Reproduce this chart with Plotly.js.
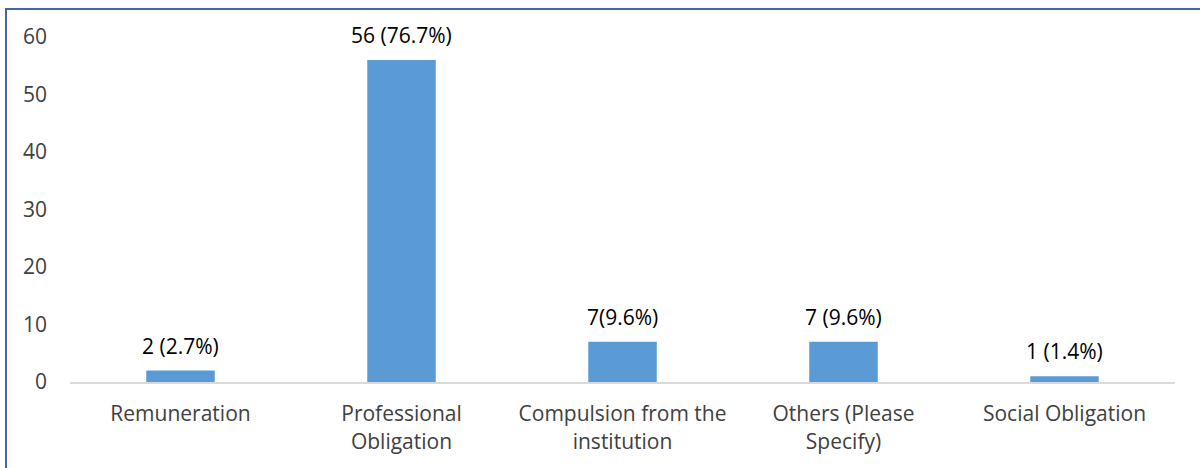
<!DOCTYPE html>
<html>
<head>
<meta charset="utf-8">
<script src="https://cdn.plot.ly/plotly-3.0.1.min.js"></script>
<style>
  html, body { margin: 0; padding: 0; background: #fff; }
  #wrap { position: relative; width: 1200px; height: 468px; }
  #chart { width: 1200px; height: 468px; }
  #frame { position: absolute; left: 5px; top: 8px; width: 1195px; height: 460px;
           border-left: 2px solid #4466a6; border-top: 2px solid #4466a6;
           box-sizing: border-box; pointer-events: none; }
</style>
</head>
<body>
<div id="wrap">
  <div id="chart"></div>
  <div id="frame"></div>
</div>
<script>
const categories = ["Remuneration", "Professional<br>Obligation", "Compulsion from the<br>institution", "Others (Please<br>Specify)", "Social Obligation"];
const counts = [2, 56, 7, 7, 1];
const labels = ["2 (2.7%)", "56 (76.7%)", "7(9.6%)", "7 (9.6%)", "1 (1.4%)"];
const yTicks = [0, 10, 20, 30, 40, 50, 60];

const trace = {
  type: "bar",
  x: categories,
  y: counts,
  cliponaxis: false,
  marker: { color: "#5b9bd5" },
  hoverinfo: "none"
};

const annotations = categories.map((c, i) => ({
  x: c,
  y: counts[i],
  xref: "x",
  yref: "y",
  text: labels[i],
  showarrow: false,
  yanchor: "bottom",
  yshift: 9,
  font: { family: "Open Sans, Noto Sans, sans-serif", size: 21, color: "#000000" }
}));

const layout = {
  width: 1200,
  height: 468,
  margin: { l: 70, r: 25, t: 37, b: 86 },
  paper_bgcolor: "#ffffff",
  plot_bgcolor: "#ffffff",
  showlegend: false,
  bargap: 0.69,
  annotations: annotations,
  font: { family: "Open Sans, Noto Sans, sans-serif", size: 21, color: "#404040" },
  xaxis: {
    type: "category",
    showgrid: false,
    showline: true,
    linecolor: "#d9d9d9",
    linewidth: 2,
    ticks: "",
    tickfont: { size: 21, color: "#404040" },
    ticklabelstandoff: 12
  },
  yaxis: {
    range: [0, 60],
    tickvals: yTicks,
    ticktext: yTicks.map(String),
    showgrid: false,
    zeroline: false,
    showline: false,
    ticks: "",
    tickfont: { size: 21, color: "#404040" },
    ticklabelstandoff: 22
  }
};

Plotly.newPlot("chart", [trace], layout, { staticPlot: true, displayModeBar: false });
</script>
</body>
</html>
